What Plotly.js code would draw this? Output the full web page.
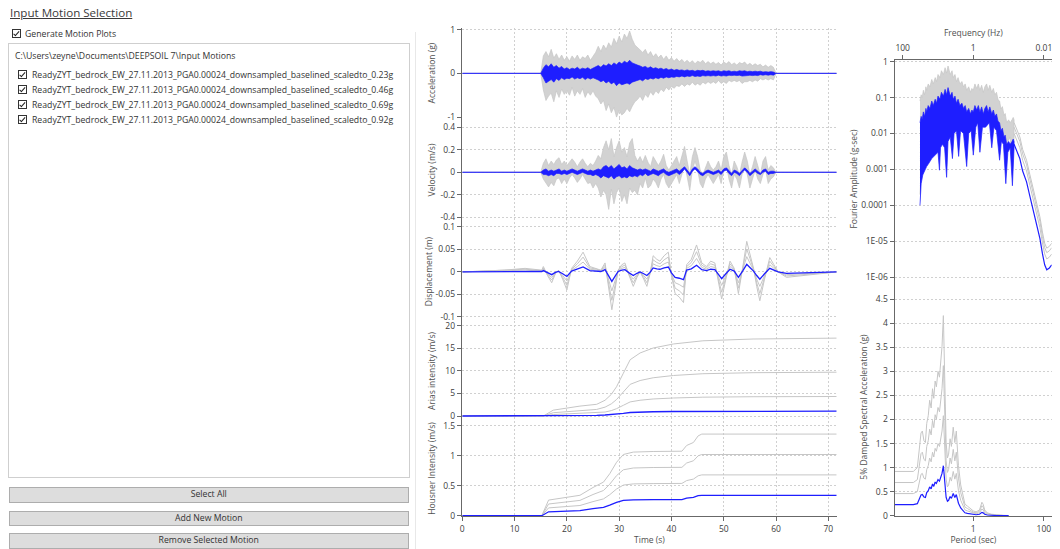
<!DOCTYPE html>
<html><head><meta charset="utf-8">
<script src="https://cdn.plot.ly/plotly-3.0.1.min.js"></script>
<style>
html,body{margin:0;padding:0;width:1060px;height:549px;overflow:hidden;background:#fff;font-family:'Open Sans','Noto Sans',sans-serif;color:#333}
#chart{position:absolute;left:0;top:0;width:1060px;height:549px}
#ui{position:absolute;left:0;top:0;width:420px;height:549px;font-size:8.7px}
.t{position:absolute;white-space:nowrap;line-height:12px;color:#333}
.cb{position:absolute;box-sizing:border-box;width:9.3px;height:9.3px;border:1px solid #333;background:#fff}
.cb::after{content:'';position:absolute;left:2.2px;top:0.2px;width:2px;height:4.6px;border:solid #222;border-width:0 1.4px 1.4px 0;transform:rotate(42deg)}
.box{position:absolute;box-sizing:border-box;left:8px;top:43px;width:402px;height:435px;border:1px solid #cfcfcf}
.btn{position:absolute;box-sizing:border-box;left:8.5px;width:400.5px;background:#dddddd;border:1px solid #adadad;text-align:center;font-size:8.7px;color:#333}
.sep{position:absolute;left:415px;top:32px;width:1px;height:517px;background:#e8e8e8}
</style></head><body>
<div id="chart"></div>
<div id="ui"></div>
<script>
// ---------- UI labels ----------
const panelTitle = 'Input Motion Selection';
const genLabel = 'Generate Motion Plots';
const folderPath = 'C:\\Users\\zeyne\\Documents\\DEEPSOIL 7\\Input Motions';
const motionNames = [
  'ReadyZYT_bedrock_EW_27.11.2013_PGA0.00024_downsampled_baselined_scaledto_0.23g',
  'ReadyZYT_bedrock_EW_27.11.2013_PGA0.00024_downsampled_baselined_scaledto_0.46g',
  'ReadyZYT_bedrock_EW_27.11.2013_PGA0.00024_downsampled_baselined_scaledto_0.69g',
  'ReadyZYT_bedrock_EW_27.11.2013_PGA0.00024_downsampled_baselined_scaledto_0.92g'
];
const buttonLabels = ['Select All', 'Add New Motion', 'Remove Selected Motion'];

// ---------- Time histories (envelopes) ----------
const envT = [0,15,15.5,16,16.5,17,17.5,18,18.5,19,
19.5,20,20.5,21,21.5,22,22.5,23,23.5,24,
24.5,25,25.5,26,26.5,27,27.5,28,28.5,29,
29.5,30,30.5,31,31.5,32,32.5,33,33.5,34,
34.5,35,35.5,36,36.5,37,37.5,38,38.5,39,
39.5,40,40.5,41,41.5,42,42.5,43,43.5,44,
44.5,45,45.5,46,46.5,47,47.5,48,48.5,49,
49.5,50,50.5,51,51.5,52,52.5,53,53.5,54,
54.5,55,55.5,56,56.5,57,57.5,58,58.5,59,
59.5,60,71.6];

const accUp023 = [0,0,0.12,0.20,0.15,0.22,0.14,0.18,0.12,0.16,
0.10,0.13,0.09,0.12,0.10,0.14,0.09,0.12,0.10,0.13,
0.09,0.12,0.15,0.18,0.14,0.20,0.17,0.22,0.18,0.24,
0.20,0.26,0.22,0.28,0.24,0.30,0.24,0.21,0.19,0.17,
0.14,0.16,0.12,0.15,0.11,0.13,0.10,0.12,0.09,0.11,
0.08,0.10,0.07,0.09,0.07,0.08,0.06,0.08,0.06,0.07,
0.05,0.07,0.06,0.07,0.05,0.06,0.05,0.06,0.05,0.06,
0.04,0.06,0.05,0.06,0.04,0.05,0.04,0.06,0.05,0.06,
0.04,0.05,0.04,0.05,0.04,0.05,0.03,0.04,0.03,0.04,
0.03,0,0];
const accLo023 = [0,0,-0.10,-0.22,-0.18,-0.14,-0.20,-0.12,-0.16,-0.10,
-0.14,-0.11,-0.12,-0.08,-0.13,-0.10,-0.12,-0.09,-0.14,-0.10,
-0.13,-0.10,-0.13,-0.15,-0.19,-0.16,-0.22,-0.18,-0.24,-0.20,
-0.28,-0.22,-0.26,-0.24,-0.22,-0.25,-0.20,-0.18,-0.16,-0.14,
-0.17,-0.12,-0.14,-0.11,-0.13,-0.10,-0.12,-0.09,-0.11,-0.08,
-0.10,-0.08,-0.09,-0.07,-0.08,-0.06,-0.08,-0.06,-0.07,-0.05,
-0.07,-0.06,-0.07,-0.05,-0.06,-0.05,-0.06,-0.05,-0.06,-0.04,
-0.06,-0.05,-0.06,-0.04,-0.05,-0.04,-0.05,-0.04,-0.06,-0.05,
-0.05,-0.04,-0.05,-0.04,-0.05,-0.03,-0.04,-0.03,-0.04,-0.03,
-0.04,0,0];
const accUp092 = [0,0,0.40,0.50,0.38,0.55,0.35,0.45,0.32,0.42,
0.30,0.38,0.28,0.40,0.32,0.42,0.30,0.38,0.34,0.42,
0.30,0.40,0.48,0.62,0.50,0.65,0.55,0.70,0.60,0.80,
0.68,0.85,0.72,0.90,0.80,0.97,0.78,0.65,0.60,0.55,
0.48,0.55,0.42,0.50,0.38,0.45,0.36,0.42,0.32,0.40,
0.30,0.36,0.28,0.34,0.27,0.32,0.25,0.30,0.24,0.29,
0.22,0.28,0.25,0.30,0.22,0.27,0.22,0.26,0.21,0.25,
0.19,0.26,0.22,0.27,0.20,0.24,0.19,0.25,0.22,0.26,
0.19,0.23,0.18,0.22,0.18,0.21,0.15,0.19,0.14,0.18,
0.14,0,0];
const accLo092 = [0,0,-0.38,-0.62,-0.52,-0.45,-0.65,-0.40,-0.55,-0.36,
-0.48,-0.40,-0.50,-0.32,-0.52,-0.40,-0.48,-0.35,-0.55,-0.42,
-0.50,-0.40,-0.52,-0.58,-0.70,-0.62,-0.85,-0.70,-0.90,-0.78,
-1.00,-0.85,-0.95,-0.90,-0.80,-0.88,-0.75,-0.65,-0.60,-0.52,
-0.62,-0.48,-0.55,-0.42,-0.50,-0.40,-0.46,-0.36,-0.42,-0.32,
-0.38,-0.30,-0.34,-0.28,-0.30,-0.24,-0.30,-0.24,-0.27,-0.20,
-0.27,-0.23,-0.27,-0.20,-0.24,-0.19,-0.23,-0.19,-0.23,-0.16,
-0.23,-0.19,-0.23,-0.16,-0.19,-0.16,-0.19,-0.16,-0.23,-0.19,
-0.19,-0.16,-0.19,-0.15,-0.18,-0.12,-0.15,-0.12,-0.15,-0.12,
-0.15,0,0];

const velUp023 = [0,0,0.02,0.03,0.01,0.02,0.01,0.02,0.03,0.01,
0.02,0.01,0.02,0.03,0.02,0.01,0.02,0.03,0.02,0.01,
0.02,0.01,0.02,0.03,0.02,0.05,0.06,0.04,0.06,0.03,
0.05,0.07,0.04,0.05,0.03,0.06,0.04,0.03,0.02,0.03,
0.02,0.03,0.02,0.01,0.03,0.02,0.01,0.02,0.03,0.01,
0.00,0.01,0.02,0.03,0.01,0.03,0.05,0.02,-0.01,0.03,
0.05,0.03,0.00,-0.01,0.01,0.02,0.01,0.00,0.01,0.02,
0.00,0.03,0.04,0.01,-0.01,0.02,0.01,-0.01,0.02,0.04,
0.02,-0.01,0.01,0.03,0.01,-0.01,0.02,0.03,0.00,0.01,
0.01,0,0];
const velLo023 = [0,0,-0.02,-0.02,-0.03,-0.02,-0.03,-0.01,-0.01,-0.02,
-0.01,-0.02,-0.01,0.00,-0.01,-0.02,-0.01,0.00,-0.01,-0.02,
-0.02,-0.03,-0.02,-0.03,-0.05,-0.03,-0.04,-0.05,-0.03,-0.06,
-0.04,-0.03,-0.05,-0.04,-0.05,-0.03,-0.04,-0.03,-0.04,-0.02,
-0.03,-0.01,-0.03,-0.02,-0.01,-0.02,-0.03,-0.01,0.00,-0.02,
-0.03,-0.02,-0.01,0.00,-0.02,0.00,0.03,0.00,-0.03,0.01,
0.03,0.01,-0.02,-0.03,-0.01,0.00,-0.01,-0.02,-0.01,0.00,
-0.02,0.01,0.02,-0.01,-0.03,0.00,-0.01,-0.03,0.00,0.02,
0.00,-0.03,-0.01,0.01,-0.01,-0.02,0.00,0.01,-0.02,-0.01,
-0.01,0,0];
const velUp092 = [0,0,0.08,0.12,0.06,0.10,0.07,0.11,0.13,0.07,
0.10,0.06,0.09,0.12,0.09,0.05,0.09,0.12,0.08,0.05,
0.08,0.06,0.10,0.15,0.12,0.22,0.28,0.20,0.30,0.14,
0.22,0.28,0.18,0.22,0.14,0.26,0.30,0.15,0.10,0.14,
0.09,0.15,0.09,0.05,0.14,0.10,0.06,0.10,0.16,0.06,
0.02,0.06,0.10,0.14,0.06,0.14,0.23,0.10,-0.02,0.14,
0.22,0.14,0.02,-0.02,0.05,0.10,0.05,0.02,0.05,0.10,
0.02,0.14,0.18,0.06,-0.02,0.10,0.05,-0.02,0.09,0.18,
0.10,-0.02,0.05,0.14,0.06,-0.02,0.10,0.14,0.02,0.06,
0.04,0,0];
const velLo092 = [0,0,-0.06,-0.10,-0.13,-0.09,-0.12,-0.06,-0.05,-0.10,
-0.06,-0.10,-0.05,-0.02,-0.05,-0.09,-0.06,-0.02,-0.06,-0.10,
-0.09,-0.14,-0.10,-0.14,-0.22,-0.16,-0.20,-0.33,-0.15,-0.28,
-0.18,-0.14,-0.26,-0.20,-0.28,-0.14,-0.18,-0.16,-0.20,-0.10,
-0.14,-0.05,-0.14,-0.12,-0.06,-0.09,-0.14,-0.06,-0.02,-0.10,
-0.14,-0.10,-0.06,-0.02,-0.10,-0.02,0.08,-0.02,-0.16,0.02,
0.10,0.02,-0.10,-0.14,-0.06,-0.02,-0.06,-0.10,-0.06,-0.02,
-0.10,0.02,0.06,-0.06,-0.14,-0.02,-0.06,-0.14,-0.02,0.06,
-0.02,-0.14,-0.06,0.02,-0.06,-0.10,-0.02,0.02,-0.10,-0.06,
-0.04,0,0];

const dispT = [0,8,12,15.2,15.5,16.3,17.1,17.8,18.4,19.2,
20.0,20.9,22.0,23.1,24.4,25.7,26.5,27.3,28.0,28.6,
29.2,29.8,30.5,31.1,31.9,32.7,33.4,34.0,34.7,35.3,
35.9,36.5,37.2,37.8,38.6,39.4,40.0,40.7,41.5,42.3,
42.9,43.8,44.8,45.8,46.7,47.5,48.3,49.0,49.6,50.4,
51.2,52.0,52.8,53.6,54.4,55.0,55.7,56.3,56.9,57.8,
58.8,59.6,60.4,62.0,65.2,71.6];
const disp023 = [0,0.001,0.002,0.001,0.003,-0.002,-0.006,-0.001,0.001,-0.004,
-0.010,0.002,0.006,0.011,0.003,0.002,0.001,0.005,-0.008,-0.021,
-0.010,0.001,0.004,0.005,-0.002,-0.008,-0.003,0.000,-0.004,-0.008,
-0.001,0.009,0.007,0.006,0.009,0.011,-0.002,-0.012,-0.014,-0.017,
0.004,0.007,0.015,0.005,0.003,0.006,0.005,-0.006,-0.015,-0.004,
0.006,0.002,-0.012,0.002,0.017,0.010,0.002,-0.008,-0.016,-0.004,
0.008,0.004,0.000,-0.003,-0.002,0];
const disp046 = [0,0.002,0.004,0.002,0.006,-0.004,-0.012,-0.002,0.002,-0.008,
-0.020,0.004,0.012,0.022,0.006,0.004,0.002,0.010,-0.016,-0.042,
-0.020,0.002,0.008,0.010,-0.004,-0.016,-0.006,0.000,-0.008,-0.016,
-0.002,0.018,0.014,0.012,0.018,0.022,-0.004,-0.024,-0.028,-0.034,
0.008,0.014,0.030,0.010,0.006,0.012,0.010,-0.012,-0.030,-0.008,
0.012,0.004,-0.024,0.004,0.034,0.020,0.004,-0.016,-0.032,-0.008,
0.016,0.008,0.000,-0.006,-0.004,0];
const disp069 = [0,0.003,0.006,0.003,0.009,-0.006,-0.018,-0.003,0.003,-0.012,
-0.030,0.006,0.018,0.033,0.009,0.006,0.003,0.015,-0.024,-0.063,
-0.030,0.003,0.012,0.015,-0.006,-0.024,-0.009,0.000,-0.012,-0.024,
-0.003,0.027,0.021,0.018,0.027,0.033,-0.006,-0.036,-0.042,-0.051,
0.012,0.021,0.045,0.015,0.009,0.018,0.015,-0.018,-0.045,-0.012,
0.018,0.006,-0.036,0.006,0.051,0.030,0.006,-0.024,-0.048,-0.012,
0.024,0.012,0.000,-0.009,-0.006,0];
const disp092 = [0,0.004,0.008,0.004,0.012,-0.008,-0.024,-0.004,0.004,-0.016,
-0.040,0.008,0.024,0.044,0.012,0.008,0.004,0.020,-0.032,-0.084,
-0.040,0.004,0.016,0.020,-0.008,-0.032,-0.012,0.000,-0.016,-0.032,
-0.004,0.036,0.028,0.024,0.036,0.044,-0.008,-0.048,-0.056,-0.068,
0.016,0.028,0.060,0.020,0.012,0.024,0.020,-0.024,-0.060,-0.016,
0.024,0.008,-0.048,0.008,0.068,0.040,0.008,-0.032,-0.064,-0.016,
0.032,0.016,0.000,-0.012,-0.008,0];

const ariasT = [0,15.5,17.4,20,22.5,25.7,27.3,28.5,29.5,30.8,32.1,34,36.5,40.4,46,55.6,71.6];
const arias023 = [0,0,0.08,0.11,0.14,0.16,0.22,0.30,0.41,0.59,0.78,0.88,0.94,1.00,1.04,1.07,1.08];
const arias046 = [0,0,0.33,0.45,0.55,0.65,0.88,1.20,1.63,2.38,3.13,3.50,3.78,4.00,4.18,4.28,4.33];
const arias069 = [0,0,0.73,1.01,1.24,1.46,1.97,2.70,3.66,5.34,7.03,7.88,8.49,9.00,9.39,9.62,9.73];
const arias092 = [0,0,1.3,1.8,2.2,2.6,3.5,4.8,6.5,9.5,12.5,14.0,15.1,16.0,16.7,17.1,17.3];

const housT = [0,15.2,16.5,18.7,22.5,25,27,28.2,29.5,30.8,32.7,36.5,42,42.9,44.2,45.1,45.8,71.6];
const hous023 = [0,0,0.065,0.073,0.085,0.118,0.14,0.175,0.223,0.255,0.265,0.268,0.269,0.293,0.305,0.333,0.34,0.34];
const hous046 = [0,0,0.13,0.145,0.17,0.235,0.28,0.35,0.445,0.51,0.53,0.535,0.538,0.585,0.61,0.665,0.68,0.68];
const hous069 = [0,0,0.195,0.218,0.255,0.353,0.42,0.525,0.668,0.765,0.795,0.803,0.806,0.878,0.915,0.998,1.02,1.02];
const hous092 = [0,0,0.26,0.29,0.34,0.47,0.56,0.70,0.89,1.02,1.06,1.07,1.075,1.17,1.22,1.33,1.36,1.36];
const timeTicks = [0,10,20,30,40,50,60,70];

// ---------- Fourier amplitude (band envelopes + low-frequency tails) ----------
const fuB = [32.4,30,28,26,24,22,20.9,19,17,15,
13.6,12,11,10,8.8,8,7,6.3,5.7,5.2,
4.5,4,3.7,3.3,3.0,2.7,2.4,2.1,1.9,1.7,
1.54,1.35,1.2,1.1,1.0,0.9,0.8,0.72,0.65,0.58,
0.52,0.47,0.42,0.38,0.34,0.3,0.27,0.245,0.22,0.2,
0.18,0.165,0.15,0.135,0.125,0.113,0.1,0.09,0.08,0.074,
0.07];
const auB = [0.02,0.03,0.025,0.04,0.03,0.05,0.04,0.06,0.05,0.08,
0.06,0.09,0.07,0.11,0.09,0.14,0.11,0.17,0.12,0.19,
0.11,0.14,0.09,0.11,0.07,0.09,0.06,0.07,0.05,0.06,
0.04,0.05,0.035,0.045,0.04,0.06,0.045,0.06,0.04,0.055,
0.035,0.05,0.06,0.04,0.055,0.035,0.045,0.03,0.035,0.022,
0.02,0.012,0.014,0.008,0.009,0.005,0.006,0.005,0.006,0.007,
0.006];
const auG = [0.08,0.12,0.10,0.16,0.12,0.20,0.16,0.24,0.20,0.32,
0.24,0.36,0.28,0.44,0.36,0.56,0.44,0.68,0.48,0.76,
0.44,0.56,0.36,0.44,0.28,0.36,0.24,0.28,0.20,0.24,
0.16,0.20,0.14,0.18,0.16,0.24,0.18,0.24,0.16,0.22,
0.14,0.20,0.24,0.16,0.22,0.14,0.18,0.12,0.14,0.088,
0.08,0.048,0.056,0.032,0.036,0.02,0.024,0.02,0.024,0.028,
0.024];
const flB = [32.4,30,27,24,21,18,15,12,10,9.1,
8.5,7.5,6.5,5.7,5.2,4.5,3.9,3.5,3.0,2.6,
2.3,1.9,1.54,1.35,1.15,1.0,0.85,0.75,0.65,0.55,
0.45,0.35,0.3,0.26,0.22,0.18,0.16,0.14,0.12,0.105,
0.09,0.078,0.07];
const alB = [1e-4,0.0004,0.0007,0.0009,0.0012,0.0015,0.002,0.0025,0.003,0.00095,
0.004,0.005,0.004,0.0006,0.006,0.008,0.002,0.01,0.012,0.0023,
0.012,0.01,0.0012,0.01,0.012,0.0025,0.015,0.02,0.003,0.015,
0.015,0.02,0.004,0.015,0.012,0.0018,0.006,0.005,0.0004,0.003,
0.004,0.00035,0.004];
const alG = [2e-4,0.0008,0.0014,0.0018,0.0024,0.003,0.004,0.005,0.006,0.0019,
0.008,0.01,0.008,0.0012,0.012,0.016,0.004,0.02,0.024,0.0046,
0.024,0.02,0.0024,0.02,0.024,0.005,0.03,0.04,0.006,0.03,
0.03,0.04,0.008,0.03,0.024,0.0036,0.012,0.01,0.0008,0.006,
0.008,0.0007,0.008];
const tailF = [0.07,0.06,0.048,0.04,0.031,0.025,0.02,0.016,0.013,0.011,0.0095,0.0083,0.007,0.006];
const tail023 = [0.005,0.0035,0.002,0.0009,0.00045,0.00018,7e-5,2.8e-5,1.2e-5,4.5e-6,2.2e-6,1.6e-6,1.8e-6,2.2e-6];
const tail046 = [0.010,0.007,0.004,0.0018,0.0009,0.00036,1.4e-4,5.6e-5,2.4e-5,9e-6,4.4e-6,3.2e-6,3.6e-6,4.4e-6];
const tail069 = [0.015,0.0105,0.006,0.0027,0.00135,0.00054,2.1e-4,8.4e-5,3.6e-5,1.35e-5,6.6e-6,4.8e-6,5.4e-6,6.6e-6];
const tail092 = [0.020,0.014,0.008,0.0036,0.0018,0.00072,2.8e-4,1.12e-4,4.8e-5,1.8e-5,8.8e-6,6.4e-6,7.2e-6,8.8e-6];
const fourierTicks = [1,0.1,0.01,0.001,0.0001,1e-5,1e-6];
const fourierTickText = ['1','0.1','0.01','0.001','0.0001','1E-05','1E-06'];
const freqTicks = [100,1,0.01];
const freqTickText = ['100','1','0.01'];

// ---------- Spectral acceleration ----------
const saT = [0.005,0.01,0.02,0.026,0.03,0.033,0.036,0.04,0.044,0.048,
0.053,0.058,0.064,0.07,0.076,0.083,0.09,0.1,0.11,0.12,
0.13,0.142,0.155,0.17,0.185,0.2,0.22,0.24,0.27,0.3,
0.33,0.38,0.44,0.5,0.58,0.68,0.8,1.0,1.2,1.5,
1.75,1.9,2.1,2.5,3.2,4.5,7,10];
const sa023 = [0.23,0.23,0.23,0.25,0.36,0.43,0.44,0.39,0.38,0.48,
0.52,0.60,0.56,0.66,0.61,0.70,0.67,0.75,0.72,0.80,
0.88,1.04,0.70,0.38,0.30,0.32,0.40,0.36,0.46,0.38,
0.44,0.26,0.16,0.11,0.06,0.05,0.04,0.025,0.02,0.03,
0.07,0.06,0.03,0.015,0.008,0.004,0.002,0.001];
const sa046 = [0.46,0.46,0.46,0.50,0.72,0.86,0.88,0.78,0.76,0.96,
1.04,1.20,1.12,1.32,1.22,1.40,1.34,1.50,1.44,1.60,
1.76,2.08,1.40,0.76,0.60,0.64,0.80,0.72,0.92,0.76,
0.88,0.52,0.32,0.22,0.12,0.10,0.08,0.05,0.04,0.06,
0.14,0.12,0.06,0.03,0.016,0.008,0.004,0.002];
const sa069 = [0.69,0.69,0.69,0.75,1.08,1.29,1.32,1.17,1.14,1.44,
1.56,1.80,1.68,1.98,1.83,2.10,2.01,2.25,2.16,2.40,
2.64,3.12,2.10,1.14,0.90,0.96,1.20,1.08,1.38,1.14,
1.32,0.78,0.48,0.33,0.18,0.15,0.12,0.075,0.06,0.09,
0.21,0.18,0.09,0.045,0.024,0.012,0.006,0.003];
const sa092 = [0.92,0.92,0.92,1.00,1.44,1.72,1.76,1.56,1.52,1.92,
2.08,2.40,2.24,2.64,2.44,2.80,2.68,3.00,2.88,3.20,
3.52,4.16,2.80,1.52,1.20,1.28,1.60,1.44,1.84,1.52,
1.76,1.04,0.64,0.44,0.24,0.20,0.16,0.10,0.08,0.12,
0.28,0.24,0.12,0.06,0.032,0.016,0.008,0.004];
const periodTicks = [1,100];
const saTicks = [0,0.5,1,1.5,2,2.5,3,3.5,4,4.5];
const accTicks = [-1,0,1];
const velTicks = [-0.4,-0.2,0,0.2,0.4];
const dispTicks = [-0.1,-0.05,0,0.05,0.1];
const ariasTicks = [0,5,10,15,20];
const housTicks = [0,0.5,1,1.5];
const gridFreq = 1, gridPeriod = 1;

// ---------- build UI ----------
(function(){
  const ui = document.getElementById('ui');
  let h = '';
  h += '<div class="t" style="left:10px;top:4.5px;font-size:11.6px;line-height:16px;text-decoration:underline;color:#3a3a3a">'+panelTitle+'</div>';
  h += '<div class="cb" style="left:11.5px;top:29.2px"></div>';
  h += '<div class="t" style="left:25px;top:28px">'+genLabel+'</div>';
  h += '<div class="box"></div>';
  h += '<div class="t" style="left:15px;top:50px">'+folderPath+'</div>';
  motionNames.forEach((n,i)=>{
    const cy = 74.7 + i*15;
    h += '<div class="cb" style="left:17.5px;top:'+(cy-4.65)+'px"></div>';
    h += '<div class="t" style="left:32px;top:'+(cy-6)+'px">'+n+'</div>';
  });
  const bt=[487.3,510.7,533.3], bh=[15.4,15,15.7];
  buttonLabels.forEach((b,i)=>{
    h += '<div class="btn" style="top:'+bt[i]+'px;height:'+bh[i]+'px;line-height:'+(bh[i]-2)+'px">'+b+'</div>';
  });
  h += '<div class="sep"></div>';
  ui.innerHTML = h;
})();

// ---------- chart ----------
const BLUE = '#1e1eff', GRAY = '#c6c6c6', GRAYFILL = '#d2d2d2', AX = '#686868', GRID = '#d0d0d0';
const FONT = 'Open Sans, Noto Sans, sans-serif';
const tickFont = {family: FONT, size: 8.5, color: '#3c3c3c'};
const titleFont = {family: FONT, size: 8.5, color: '#505050'};

function band(x, up, xlo, lo, fill, edge, xa, ya){
  return {x: x.concat(xlo.slice().reverse()), y: up.concat(lo.slice().reverse()),
    fill: 'toself', fillcolor: fill, mode: 'lines', line: {color: edge, width: 0.7},
    xaxis: xa, yaxis: ya, hoverinfo: 'skip'};
}
function line(x, y, color, xa, ya, w){
  return {x: x, y: y, mode: 'lines', line: {color: color, width: w || 1}, xaxis: xa, yaxis: ya, hoverinfo: 'skip'};
}

const traces = [
  band(envT, accUp092, envT, accLo092, GRAYFILL, GRAY, 'x', 'y'),
  band(envT, accUp023, envT, accLo023, BLUE, BLUE, 'x', 'y'),
  band(envT, velUp092, envT, velLo092, GRAYFILL, GRAY, 'x2', 'y2'),
  band(envT, velUp023, envT, velLo023, BLUE, BLUE, 'x2', 'y2'),
  line(dispT, disp092, GRAY, 'x3', 'y3'),
  line(dispT, disp069, GRAY, 'x3', 'y3'),
  line(dispT, disp046, GRAY, 'x3', 'y3'),
  line(dispT, disp023, BLUE, 'x3', 'y3', 1.3),
  line(ariasT, arias092, GRAY, 'x4', 'y4'),
  line(ariasT, arias069, GRAY, 'x4', 'y4'),
  line(ariasT, arias046, GRAY, 'x4', 'y4'),
  line(ariasT, arias023, BLUE, 'x4', 'y4', 1.3),
  line(housT, hous092, GRAY, 'x5', 'y5'),
  line(housT, hous069, GRAY, 'x5', 'y5'),
  line(housT, hous046, GRAY, 'x5', 'y5'),
  line(housT, hous023, BLUE, 'x5', 'y5', 1.3),
  band(fuB, auG, flB, alG, GRAYFILL, GRAY, 'x6', 'y6'),
  line(tailF, tail092, GRAY, 'x6', 'y6'),
  line(tailF, tail069, GRAY, 'x6', 'y6'),
  line(tailF, tail046, GRAY, 'x6', 'y6'),
  band(fuB, auB, flB, alB, BLUE, BLUE, 'x6', 'y6'),
  line(tailF, tail023, BLUE, 'x6', 'y6', 1.2),
  line(saT, sa092, GRAY, 'x7', 'y7'),
  line(saT, sa069, GRAY, 'x7', 'y7'),
  line(saT, sa046, GRAY, 'x7', 'y7'),
  line(saT, sa023, BLUE, 'x7', 'y7', 1.2)
];

const MX = [0.43613, 0.78934];
const RX = [0.84434, 0.99217];
function yAx(dom, rng, ticks, title, extra){
  return Object.assign({domain: dom, range: rng, tickvals: ticks, ticktext: ticks.map(String),
    showgrid: true, gridcolor: GRID, griddash: '2px,2px', gridwidth: 1, zeroline: false,
    showline: true, linecolor: AX, linewidth: 1.5, ticks: 'outside', ticklen: 4, tickcolor: AX, tickwidth: 1,
    tickfont: tickFont, title: {text: title, font: titleFont}, fixedrange: true}, extra || {});
}
function xMid(anchor, last){
  const a = {domain: MX, range: [0, 71.6], anchor: anchor, tickvals: timeTicks, ticktext: timeTicks.map(String),
    showgrid: true, gridcolor: GRID, griddash: '2px,2px', gridwidth: 1, zeroline: false, fixedrange: true,
    showticklabels: false, ticks: '', showline: false, tickfont: tickFont};
  if (last) Object.assign(a, {showticklabels: true, ticks: 'outside', ticklen: 4, tickcolor: AX,
    showline: true, linecolor: AX, linewidth: 1.5, title: {text: 'Time (s)', font: titleFont, standoff: 4}});
  return a;
}

const layout = {
  width: 1060, height: 549, margin: {l: 0, r: 0, t: 0, b: 0}, showlegend: false,
  paper_bgcolor: 'rgba(0,0,0,0)', plot_bgcolor: 'rgba(0,0,0,0)',
  font: {family: FONT, size: 8.5, color: '#3c3c3c'},
  xaxis: xMid('y'), xaxis2: xMid('y2'), xaxis3: xMid('y3'), xaxis4: xMid('y4'), xaxis5: xMid('y5', true),
  yaxis: yAx([0.78506, 0.94900], [-1.021, 1.039], accTicks, 'Acceleration (g)', {anchor: 'x'}),
  yaxis2: yAx([0.59563, 0.78506], [-0.442, 0.483], velTicks, 'Velocity (m/s)', {anchor: 'x2'}),
  yaxis3: yAx([0.41530, 0.59563], [-0.109, 0.111], dispTicks, 'Displacement (m)', {anchor: 'x3'}),
  yaxis4: yAx([0.23315, 0.41530], [-1.11, 21.1], ariasTicks, 'Arias intensity (m/s)', {anchor: 'x4'}),
  yaxis5: yAx([0.06011, 0.23315], [-0.005, 1.578], housTicks, 'Housner Intensity (m/s)', {anchor: 'x5'}),
  xaxis6: {domain: RX, type: 'log', range: [2.218, -2.221], anchor: 'y6', side: 'top',
    tickvals: freqTicks, ticktext: freqTickText, showgrid: false, zeroline: false, fixedrange: true,
    showline: true, linecolor: AX, linewidth: 1.5, ticks: 'outside', ticklen: 4, tickcolor: AX,
    tickfont: tickFont, title: {text: 'Frequency (Hz)', font: titleFont, standoff: 4}},
  yaxis6: yAx([0.45719, 0.89071], [-6.582, 0.047], fourierTicks, 'Fourier Amplitude (g-sec)',
    {type: 'log', anchor: 'x6', ticktext: fourierTickText}),
  xaxis7: {domain: RX, type: 'log', range: [-2.218, 2.221], anchor: 'y7',
    tickvals: periodTicks, ticktext: periodTicks.map(String), showgrid: false, zeroline: false, fixedrange: true,
    showline: true, linecolor: AX, linewidth: 1.5, ticks: 'outside', ticklen: 4, tickcolor: AX,
    tickfont: tickFont, title: {text: 'Period (sec)', font: titleFont, standoff: 4}},
  yaxis7: yAx([0.06011, 0.45719], [-0.006, 4.526], saTicks, '5% Damped Spectral Acceleration (g)', {anchor: 'x7'}),
  shapes: [
    {type: 'line', xref: 'x6', yref: 'y6 domain', x0: Math.log10(gridFreq), x1: Math.log10(gridFreq), y0: 0, y1: 1,
      line: {color: GRID, width: 1, dash: '2px,2px'}, layer: 'below'},
    {type: 'line', xref: 'x7', yref: 'y7 domain', x0: Math.log10(gridPeriod), x1: Math.log10(gridPeriod), y0: 0, y1: 1,
      line: {color: GRID, width: 1, dash: '2px,2px'}, layer: 'below'}
  ]
};

Plotly.newPlot('chart', traces, layout, {displayModeBar: false, staticPlot: true});
</script>
</body></html>
